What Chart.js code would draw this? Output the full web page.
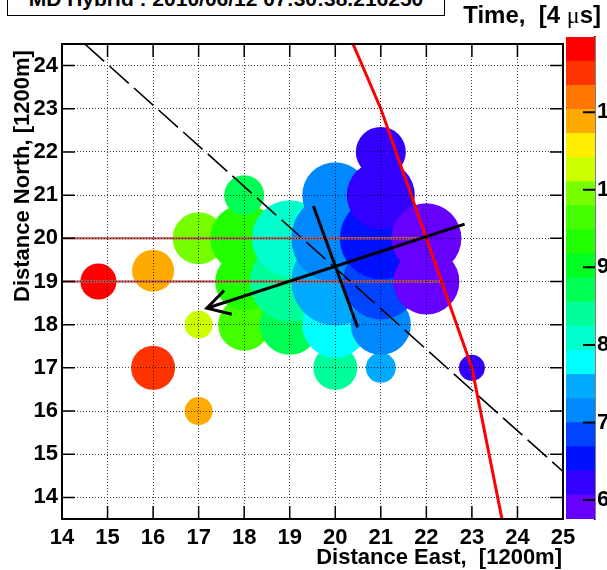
<!DOCTYPE html>
<html><head><meta charset="utf-8">
<script src="https://cdn.jsdelivr.net/npm/chart.js@4.4.1/dist/chart.umd.min.js"></script>
<style>
html,body{margin:0;padding:0;background:#fff;overflow:hidden;width:607px;height:570px;}
#wrap{position:relative;width:607px;height:570px;overflow:hidden;font-family:"Liberation Sans",Arial,sans-serif;font-weight:bold;color:#000;}
canvas{position:absolute;top:0;}
#main{left:0;}
#cbar{left:540px;}
.t{position:absolute;white-space:nowrap;}
#titlebox{left:7px;top:-18px;width:438px;height:34px;border:1px solid #000;box-sizing:border-box;font-size:21px;line-height:32px;text-align:center;background:#fff;}
#ctitle{right:6px;top:3px;font-size:24px;line-height:24px;}
#xtitle{right:45px;top:546px;font-size:22px;line-height:22px;}
#ytitle{left:0;top:0;font-size:22px;line-height:22px;transform-origin:0 0;transform:translate(11px,302px) rotate(-90deg);}
.mu{font-family:"Liberation Serif","DejaVu Serif",serif;font-weight:normal;}
</style></head><body><div id="wrap">
<canvas id="main" width="607" height="570"></canvas>
<canvas id="cbar" width="100" height="570"></canvas>
<div id="titlebox" class="t">MD Hybrid : 2010/06/12 07:30:38.216250</div>
<div id="ctitle" class="t">Time,&nbsp; [4 <span class="mu">μ</span>s]</div>
<div id="xtitle" class="t">Distance East,&nbsp; [1200m]</div>
<div id="ytitle" class="t">Distance North, [1200m]</div>
</div>
<script>
// ---- data ----
const xTicks = [14,15,16,17,18,19,20,21,22,23,24,25];
const yTicks = [14,15,16,17,18,19,20,21,22,23,24];
const cbTicks = [6,7,8,9,10,11];

// detector hits (East, North), pulse size (px radius) and time [4 us]
const hitX = [14.8,16,16,17,17,17,18,18,18,18,19,19,19,20,20,20,20,20,21,21,21,21,21,21,22,22,23];
const hitY = [19,17,19.25,16,18,20,18,19,20,21,18,19,20,17,18,19,20,21,17,18,19,20,21,22,19,20,17];
const hitSize = [18,22,21,14,14,26,26,29,34,20,30,40,38,22,33,44,44,33,15,30,38,41,34,25,33,35,13];
const hitTime = [11.82,11.51,10.88,10.88,10.26,9.95,9.64,9.33,9.33,8.71,8.71,8.40,8.09,8.40,7.77,7.46,7.15,7.15,7.46,7.15,6.84,6.53,6.22,6.22,5.91,5.91,6.22];

// colour scale
const cbMin = 5.755, cbMax = 11.97;
const bandColors = ['#6600ff','#3300ff','#0011ff','#0044ff','#0088ff','#00aaff','#00ffff','#00ffcc','#00ff99','#00ff55',
                    '#00ff22','#22ff00','#44ff00','#77ff00','#ccff00','#ffee00','#ffaa00','#ff7700','#ff3300','#ff0000'];

// lines
const stripY = [20, 19];
const stripStartX = 14;
const stripEndX = [22.0, 22.33];
const trackX = [20.39, 21, 23, 23.66];
const trackY = [24.5, 23, 17, 13.5];
const dashX = [14.5, 25];
const dashY = [24.5, 14.6];
const arrowX = [22.84, 17.18];
const arrowY = [20.33, 18.38];
const headX = [17.56, 17.18, 17.73];
const headY = [18.79, 18.38, 18.24];
const crossX = [19.52, 20.49];
const crossY = [20.75, 17.94];

// ---- build ----
Chart.defaults.font.family = '"Liberation Sans", Arial, sans-serif';
const nB = bandColors.length;
const bw = (cbMax - cbMin) / nB;
function colorOf(t){
  let i = Math.floor((t - cbMin) / bw);
  i = Math.max(0, Math.min(nB - 1, i));
  return bandColors[i];
}
const pts = (xs, ys) => xs.map((x, i) => ({x, y: ys[i]}));
const lineDs = (data, color, width, dash, order) => ({
  type: 'scatter', data, showLine: true, borderColor: color, borderWidth: width,
  borderDash: dash || [], pointRadius: 0, pointHoverRadius: 0, tension: 0, order, clip: 0,
  borderCapStyle: 'butt', borderJoinStyle: 'miter'
});

const bubbles = {
  type: 'bubble',
  data: hitX.map((x, i) => ({x, y: hitY[i], r: hitSize[i]})),
  backgroundColor: hitTime.map(colorOf),
  borderWidth: 0, hoverRadius: 0, hoverBorderWidth: 0, order: 20
};

const datasets = [
  bubbles,
  lineDs(pts([stripStartX, stripEndX[0]], [stripY[0], stripY[0]]), 'rgba(190,85,85,0.88)', 2.5, null, 9),
  lineDs(pts([stripStartX, stripEndX[1]], [stripY[1], stripY[1]]), 'rgba(190,85,85,0.88)', 2.5, null, 9),
  lineDs(pts(dashX, dashY), '#000', 1.6, [26, 7], 8),
  lineDs(pts(trackX, trackY), '#ff0000', 3, null, 7),
  lineDs(pts(crossX, crossY), '#000', 3, null, 6),
  lineDs(pts(arrowX, arrowY), '#000', 3, null, 5),
  lineDs(pts(headX, headY), '#000', 3, null, 4)
];

const frameTicks = {
  id: 'frameTicks',
  afterDraw(chart){
    const {ctx, chartArea: a, scales: {x, y}} = chart;
    ctx.save();
    ctx.strokeStyle = '#000';
    ctx.lineWidth = 1.5;
    ctx.beginPath();
    xTicks.forEach(v => {
      const p = x.getPixelForValue(v);
      ctx.moveTo(p, a.bottom); ctx.lineTo(p, a.bottom - 13);
      ctx.moveTo(p, a.top); ctx.lineTo(p, a.top + 13);
    });
    yTicks.forEach(v => {
      const p = y.getPixelForValue(v);
      ctx.moveTo(a.left, p); ctx.lineTo(a.left + 13, p);
      ctx.moveTo(a.right, p); ctx.lineTo(a.right - 13, p);
    });
    ctx.stroke();
    ctx.lineWidth = 2;
    ctx.strokeRect(a.left, a.top, a.right - a.left, a.bottom - a.top);
    ctx.restore();
  }
};

new Chart(document.getElementById('main'), {
  type: 'scatter',
  data: {datasets},
  options: {
    responsive: false, animation: false, devicePixelRatio: 1,
    layout: {padding: {left: 0, right: 44, top: 37, bottom: 0}},
    plugins: {legend: {display: false}, tooltip: {enabled: false}},
    events: [],
    scales: {
      x: {
        type: 'linear', min: 14, max: 25,
        afterBuildTicks: s => { s.ticks = xTicks.map(v => ({value: v})); },
        afterFit: s => { s.height = 51; },
        ticks: {font: {size: 22, weight: 'bold'}, color: '#000', padding: 6, maxRotation: 0, autoSkip: false},
        grid: {color: 'rgba(0,0,0,0.75)', lineWidth: 1, drawTicks: false, z: 1},
        border: {display: false, dash: [1, 2]}
      },
      y: {
        type: 'linear', min: 13.5, max: 24.5,
        afterBuildTicks: s => { s.ticks = yTicks.map(v => ({value: v})); },
        afterFit: s => { s.width = 62; },
        ticks: {font: {size: 22, weight: 'bold'}, color: '#000', padding: 4, autoSkip: false},
        grid: {color: 'rgba(0,0,0,0.75)', lineWidth: 1, drawTicks: false, z: 1},
        border: {display: false, dash: [1, 2]}
      }
    }
  },
  plugins: [frameTicks]
});

// colour bar
const cbTicksPlugin = {
  id: 'cbTicks',
  afterDraw(chart){
    const {ctx, chartArea: a, scales: {y}} = chart;
    ctx.save();
    ctx.strokeStyle = '#000'; ctx.lineWidth = 2;
    ctx.beginPath();
    cbTicks.forEach(v => {
      const p = y.getPixelForValue(v);
      ctx.moveTo(a.right - 12, p); ctx.lineTo(a.right, p);
    });
    ctx.stroke();
    ctx.restore();
  }
};
new Chart(document.getElementById('cbar'), {
  type: 'bar',
  data: {
    labels: ['t'],
    datasets: bandColors.map((c, i) => ({
      data: [[cbMin + i * bw, cbMin + (i + 1) * bw]],
      backgroundColor: c, borderWidth: 0, barPercentage: 1, categoryPercentage: 1, grouped: false
    }))
  },
  options: {
    responsive: false, animation: false, devicePixelRatio: 1,
    layout: {padding: {left: 26, right: 0, top: 37, bottom: 51}},
    plugins: {legend: {display: false}, tooltip: {enabled: false}},
    events: [],
    scales: {
      x: {display: false},
      y: {
        type: 'linear', position: 'right', min: cbMin, max: cbMax,
        afterBuildTicks: s => { s.ticks = cbTicks.map(v => ({value: v})); },
        afterFit: s => { s.width = 45; },
        ticks: {font: {size: 22, weight: 'bold'}, color: '#000', padding: 2, autoSkip: false},
        grid: {display: false, drawTicks: false},
        border: {display: true, color: '#000', width: 1.5}
      }
    }
  },
  plugins: [cbTicksPlugin]
});
</script>
</body></html>
